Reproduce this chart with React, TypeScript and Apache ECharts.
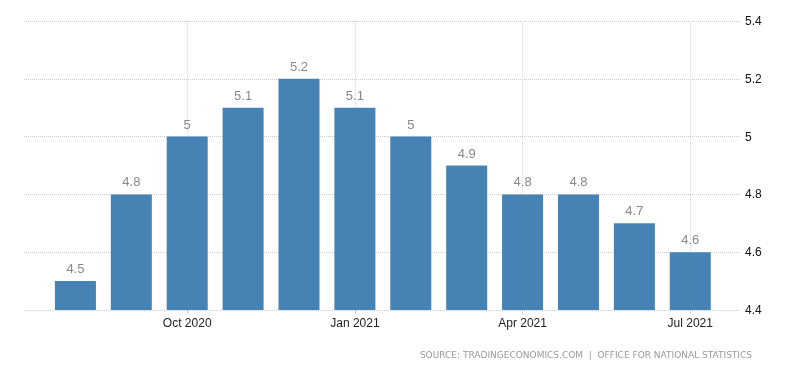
import React, { useEffect, useRef } from "react";
import * as echarts from "echarts";

const months = [
  "Aug 2020", "Sep 2020", "Oct 2020", "Nov 2020", "Dec 2020", "Jan 2021",
  "Feb 2021", "Mar 2021", "Apr 2021", "May 2021", "Jun 2021", "Jul 2021",
];
const values = [4.5, 4.8, 5, 5.1, 5.2, 5.1, 5, 4.9, 4.8, 4.8, 4.7, 4.6];
const labeledMonths = [2, 5, 8, 11];
const yTicks = { min: 4.4, max: 5.4, interval: 0.2 };
const sourceText = "SOURCE: TRADINGECONOMICS.COM  |  OFFICE FOR NATIONAL STATISTICS";

export default function App() {
  const ref = useRef<HTMLDivElement>(null);
  useEffect(() => {
    if (!ref.current) return;
    const chart = echarts.init(ref.current, null, { renderer: "svg" });
    chart.setOption({
      animation: false,
      grid: { left: 24, right: 60, top: 21, bottom: 63 },
      xAxis: {
        type: "value",
        min: -0.92,
        max: 11.89,
        axisLine: { show: false },
        axisTick: {
          show: true,
          length: 4,
          customValues: labeledMonths,
          lineStyle: { color: "#d0d0d0" },
        },
        axisLabel: {
          customValues: labeledMonths,
          formatter: (v: number) => months[Math.round(v)] ?? "",
          color: "#222",
          fontFamily: "Liberation Sans",
          fontSize: 12,
          margin: 7,
        },
        splitLine: {
          show: true,
          lineStyle: { color: "#d8d8d8", type: "dotted", width: 1 },
        },
      },
      yAxis: {
        type: "value",
        position: "right",
        min: yTicks.min,
        max: yTicks.max,
        interval: yTicks.interval,
        axisLine: { show: false },
        axisTick: { show: false },
        axisLabel: {
          color: "#111",
          fontFamily: "Liberation Sans",
          fontSize: 12,
          margin: 5,
        },
        splitLine: {
          show: true,
          lineStyle: { color: "#cccccc", type: "dotted", width: 1 },
        },
      },
      series: [
        {
          type: "bar",
          data: values.map((v, i) => [i, v]),
          barWidth: 41,
          itemStyle: { color: "#4682b4" },
          label: {
            show: true,
            position: "top",
            distance: 6,
            color: "#888",
            fontFamily: "Liberation Sans",
            fontSize: 13,
            formatter: (p: any) => String(p.value[1]),
          },
        },
      ],
      graphic: [
        {
          type: "text",
          right: 48,
          top: 350,
          style: {
            text: sourceText,
            fill: "#999",
            fontFamily: "DejaVu Sans",
            fontSize: 9,
          },
        },
      ],
    });
    return () => chart.dispose();
  }, []);
  return (
    <div
      ref={ref}
      style={{ position: "fixed", left: 0, top: 0, width: 800, height: 373 }}
    />
  );
}
